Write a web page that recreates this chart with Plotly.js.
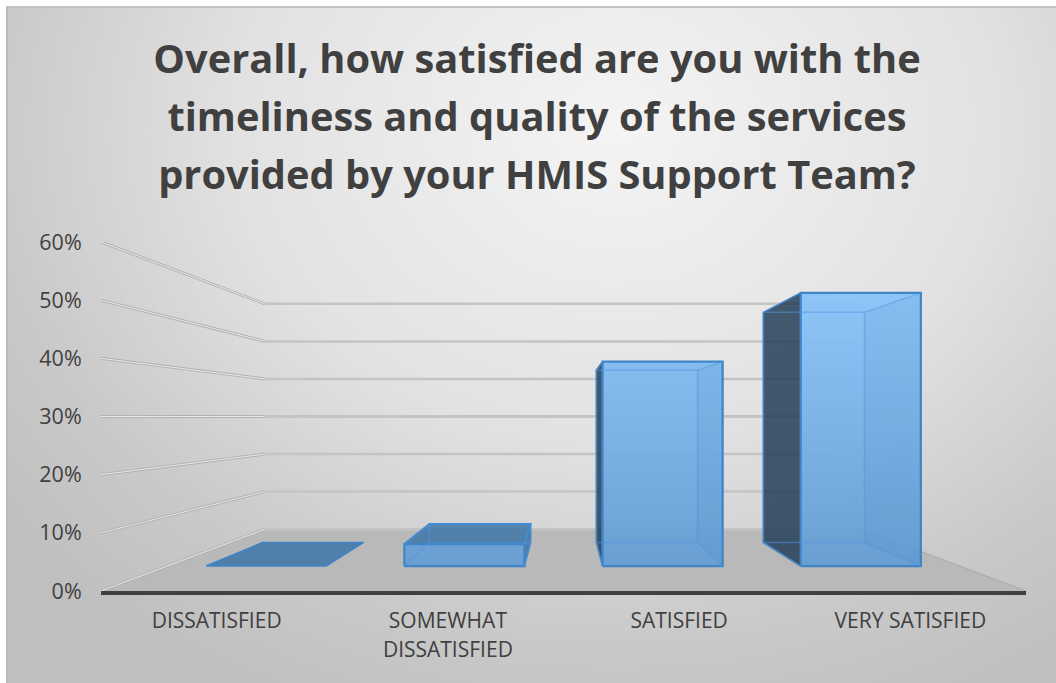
<!DOCTYPE html>
<html>
<head>
<meta charset="utf-8">
<script src="https://cdn.plot.ly/plotly-3.0.1.min.js"></script>
<style>
html,body{margin:0;padding:0;background:#fff;width:1056px;height:683px;overflow:hidden}
#bg{position:absolute;left:6px;top:6px;width:1050px;height:677px;box-sizing:border-box;border-left:2px solid #b9b9b9;border-top:2px solid #c4c4c4;
background:radial-gradient(ellipse 75% 95% at 58% 18%,#f4f4f4 0%,#e2e2e2 48%,#c9c9c9 80%,#bfbfbf 100%)}
#chart{position:absolute;left:0;top:0;width:1056px;height:683px}
</style>
</head>
<body>
<div id="bg"></div>
<div id="chart"></div>
<script>
const categories = ['DISSATISFIED', 'SOMEWHAT<br>DISSATISFIED', 'SATISFIED', 'VERY SATISFIED'];
const values = [0, 4.4, 41, 54.8];
const yTicks = [0, 10, 20, 30, 40, 50, 60];
const yTickLabels = ['0%', '10%', '20%', '30%', '40%', '50%', '60%'];
const titleLines = ['Overall, how satisfied are you with the', 'timeliness and quality of the services', 'provided by your HMIS Support Team?'];

// perspective parameters of the fake-3D view
const VX = 1.5, VY = 30, S_WALL = 0.6457, S_FRONT = 0.857, S_BACK = 0.722, HW = 0.303;
const P = (c, v, s) => [VX + (c - VX) * s, VY + (v - VY) * s];

const traces = [];
function poly(pts, o) {
  o = o || {};
  const closed = o.open ? pts : pts.concat([pts[0]]);
  const t = {
    x: closed.map(p => p[0]), y: closed.map(p => p[1]),
    mode: 'lines', hoverinfo: 'skip', showlegend: false, cliponaxis: false,
    line: { color: o.line || 'rgba(0,0,0,0)', width: o.width === undefined ? 0 : o.width, simplify: false }
  };
  if (o.fill) { t.fill = 'toself'; t.fillcolor = o.fill; }
  if (o.grad) { t.fill = 'toself'; t.fillgradient = { type: 'vertical', colorscale: o.grad, start: o.gradStart, stop: o.gradStop }; }
  traces.push(t);
}

// floor
const fl = P(-0.5, 0, S_WALL), fr = P(3.5, 0, S_WALL);
poly([[-0.5, 0], [3.5, 0], fr, fl], { fill: '#b9b9b9' });
poly([[3.5, 0], fr], { open: true, line: '#a9a9a9', width: 1 });

// wall grid lines
yTicks.forEach(v => {
  const a = P(-0.5, v, S_WALL), b = P(3.5, v, S_WALL);
  poly([a, b], { open: true, line: '#c4c4c4', width: v === 30 ? 3 : 2.5 });
  poly([[-0.5, v], a], { open: true, line: '#b2b2b2', width: 3 });
  poly([[-0.5, v], a], { open: true, line: '#e8e8e8', width: 1 });
});

const EDGE = '#3f85c8';
const gradStart = P(3, 0, S_FRONT)[1], gradStop = P(3, Math.max(...values), S_FRONT)[1];
values.forEach((v, i) => {
  const L = i - HW, R = i + HW;
  const f00 = P(L, 0, S_FRONT), f10 = P(R, 0, S_FRONT), f11 = P(R, v, S_FRONT), f01 = P(L, v, S_FRONT);
  const b00 = P(L, 0, S_BACK), b10 = P(R, 0, S_BACK), b11 = P(R, v, S_BACK), b01 = P(L, v, S_BACK);
  if (v > 0) {
    // left or right side face, outside the front face
    if (L > VX) poly([f00, f01, b01, b00], { fill: 'rgba(35,62,88,0.85)', line: '#3a77ae', width: 1.5 });
    if (R < VX) poly([f10, f11, b11, b10], { fill: 'rgba(45,100,155,0.72)', line: EDGE, width: 1.5 });
  }
  // top face when seen from above
  if (v < VY) poly([f01, f11, b11, b01], { fill: 'rgba(50,110,165,0.78)', line: EDGE, width: v > 0 ? 2 : 1.5 });
  if (v > 0) {
    // front face
    poly([f00, f10, f11, f01], {
      grad: [[0, 'rgba(101,157,212,0.94)'], [1, 'rgba(137,195,249,0.94)']],
      gradStart, gradStop,
      line: EDGE, width: 2.2
    });
    if (L > VX) {
      // far (right) side seen through the front face
      poly([f10, f11, b11, b10], { fill: 'rgba(50,110,175,0.08)' });
    }
    // hidden edges seen through the translucent front
    const hid = { open: true, line: 'rgba(80,150,225,0.5)', width: 1.5 };
    poly([b00, b10, b11, b01, b00], hid);
    poly([f00, b00], hid); poly([f10, b10], hid);
    poly([f11, b11], hid); poly([f01, b01], hid);
  }
});

const layout = {
  width: 1056, height: 683,
  paper_bgcolor: 'rgba(0,0,0,0)', plot_bgcolor: 'rgba(0,0,0,0)',
  margin: { l: 101, r: 30, t: 242, b: 92 },
  showlegend: false,
  title: {
    text: titleLines.map(s => '<span style="font-size:39.8px">' + s + '</span>').join('<br>'),
    x: 537 / 1056, xanchor: 'center', y: 0.893, yanchor: 'top',
    font: { family: '"Open Sans", sans-serif', size: 44.6, color: '#404040', weight: 700 }
  },
  xaxis: {
    range: [-0.5, 3.5], tickmode: 'array', tickvals: categories.map((_, i) => i),
    ticktext: categories.map(s => '<span style="font-size:21px">' + s + '</span>'),
    showgrid: false, zeroline: false, showline: true, linecolor: '#404040', linewidth: 4,
    ticks: 'outside', ticklen: 6, tickcolor: 'rgba(0,0,0,0)', tickangle: 0,
    tickfont: { family: '"Open Sans", sans-serif', size: 22.3, color: '#404040' }
  },
  yaxis: {
    range: [0, 60], tickmode: 'array', tickvals: yTicks, ticktext: yTickLabels,
    showgrid: false, zeroline: false, showline: false,
    ticks: 'outside', ticklen: 14, tickcolor: 'rgba(0,0,0,0)',
    tickfont: { family: '"Open Sans", sans-serif', size: 21.5, color: '#404040' }
  }
};
Plotly.newPlot('chart', traces, layout, { displayModeBar: false, staticPlot: true });
</script>
</body>
</html>
